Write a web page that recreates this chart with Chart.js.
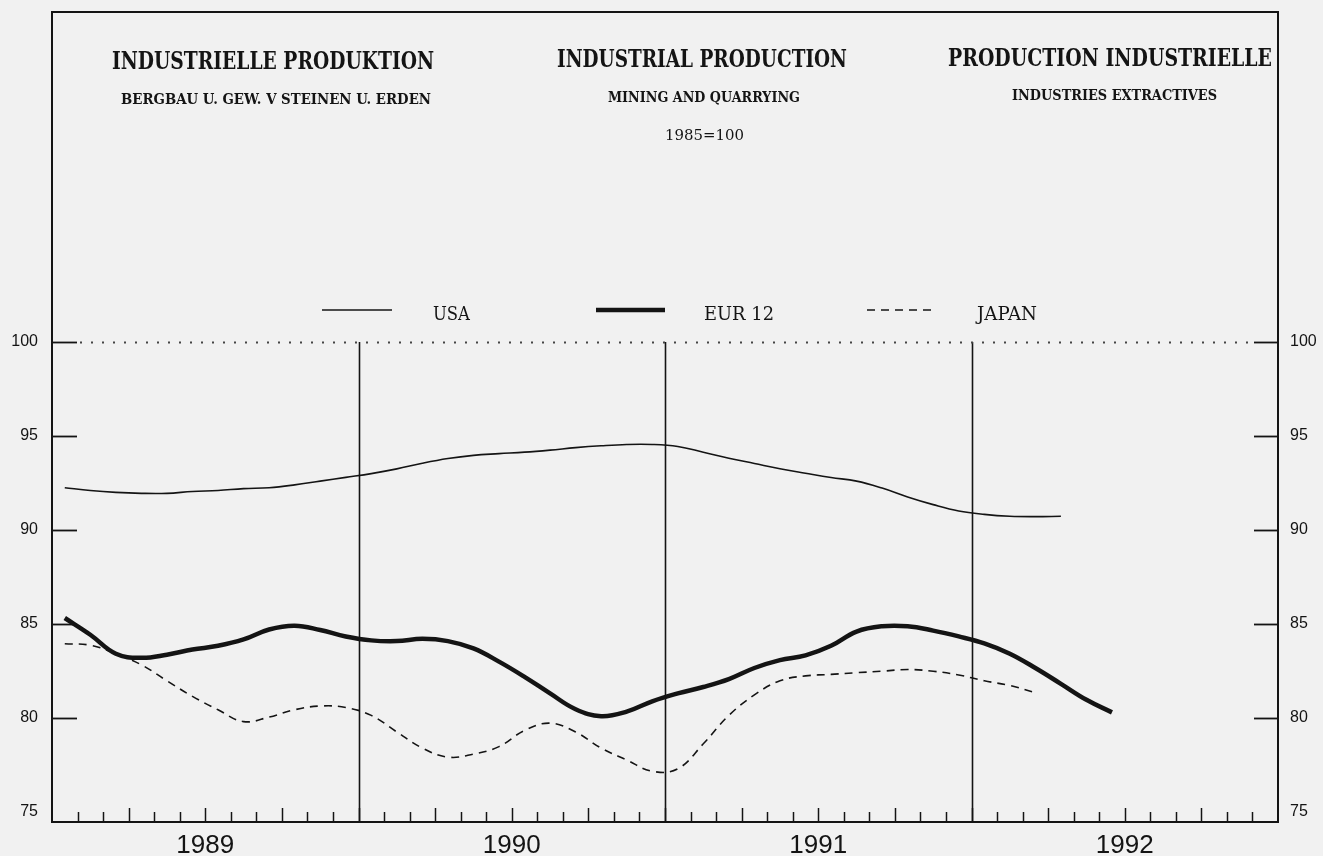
<!DOCTYPE html>
<html><head><meta charset="utf-8">
<script src="https://cdn.jsdelivr.net/npm/chart.js@4.4.1/dist/chart.umd.min.js"></script>
<style>html,body{margin:0;padding:0;background:#f1f1f1;}canvas{display:block;}</style>
</head><body>
<canvas id="c" width="1323" height="856"></canvas>
<script>
// ---- data (monthly, index 0 = Jan 1989) ----
const yearLabels = ['1989', '1990', '1991', '1992'];
const yearCenters = [6, 18, 30, 42];
const yTickValues = [75, 80, 85, 90, 95, 100];
const seriesNames = ['USA', 'EUR 12', 'JAPAN'];
const usa = [92.25, 92.1, 92.0, 91.95, 91.95, 92.05, 92.1, 92.2, 92.25, 92.4, 92.6, 92.8,
  93.0, 93.25, 93.55, 93.8, 93.97, 94.06, 94.14, 94.25, 94.38, 94.48, 94.55, 94.55,
  94.44, 94.14, 93.82, 93.54, 93.26, 93.02, 92.79, 92.6, 92.23, 91.76, 91.35, 91.01,
  90.83, 90.73, 90.71, 90.73];
const eur12 = [85.32, 84.43, 83.42, 83.2, 83.37, 83.64, 83.84, 84.18, 84.71, 84.91, 84.68, 84.34,
  84.13, 84.09, 84.21, 84.09, 83.7, 83.0, 82.19, 81.31, 80.47, 80.1, 80.34, 80.89,
  81.31, 81.65, 82.07, 82.66, 83.08, 83.33, 83.84, 84.6, 84.88, 84.88, 84.65, 84.34,
  83.97, 83.42, 82.66, 81.82, 80.97, 80.3];
const japan = [83.95, 83.87, 83.42, 82.83, 81.98, 81.15, 80.44, 79.81, 80.05, 80.44, 80.64, 80.56,
  80.14, 79.26, 78.4, 77.92, 78.08, 78.48, 79.34, 79.73, 79.26, 78.4, 77.77, 77.17,
  77.3, 78.63, 80.14, 81.23, 81.98, 82.24, 82.32, 82.41, 82.49, 82.58, 82.49, 82.29,
  81.98, 81.73, 81.35];

const toPoints = arr => arr.map((v, i) => ({ x: i + 0.5, y: v }));
const INK = '#141414';
const SLAB = '"DejaVu Serif", "Liberation Serif", serif';
const SANS = '"Liberation Sans", Arial, sans-serif';

function fitText(ctx, text, left, right, cy, size, weight) {
  ctx.save();
  ctx.font = (weight || 'normal') + ' ' + size + 'px ' + SLAB;
  const w = ctx.measureText(text).width;
  const sx = (right - left) / w;
  ctx.translate(left, cy + size * 0.729 / 2);
  ctx.scale(sx, 1);
  ctx.textAlign = 'left';
  ctx.textBaseline = 'alphabetic';
  ctx.fillStyle = INK;
  ctx.fillText(text, 0, 0);
  ctx.restore();
}

const decor = {
  id: 'decor',
  beforeDraw(chart) {
    const ctx = chart.ctx;
    ctx.save();
    ctx.fillStyle = '#f1f1f1';
    ctx.fillRect(0, 0, chart.width, chart.height);
    ctx.restore();
  },
  beforeDatasetsDraw(chart) {
    const ctx = chart.ctx, a = chart.chartArea;
    const x = chart.scales.x, y = chart.scales.y;
    const y100 = y.getPixelForValue(100);
    ctx.save();
    ctx.strokeStyle = INK;
    // year separator lines
    ctx.lineWidth = 1.6;
    [12, 24, 36].forEach(m => {
      const px = Math.round(x.getPixelForValue(m)) + 0.5;
      ctx.beginPath(); ctx.moveTo(px, a.bottom); ctx.lineTo(px, y100); ctx.stroke();
    });
    // month ticks along bottom
    ctx.lineWidth = 1.5;
    for (let m = 1; m < 48; m++) {
      const px = Math.round(x.getPixelForValue(m)) + 0.5;
      const len = (m % 3 === 0) ? 14 : 10;
      ctx.beginPath(); ctx.moveTo(px, a.bottom); ctx.lineTo(px, a.bottom - len); ctx.stroke();
    }
    // inward y ticks on both sides
    ctx.lineWidth = 1.8;
    yTickValues.filter(v => v > 75).forEach(v => {
      const py = Math.round(y.getPixelForValue(v)) + 0.5;
      ctx.beginPath(); ctx.moveTo(a.left, py); ctx.lineTo(a.left + 25, py); ctx.stroke();
      ctx.beginPath(); ctx.moveTo(a.right - 24, py); ctx.lineTo(a.right, py); ctx.stroke();
    });
    // dotted 100 line
    ctx.lineWidth = 2;
    ctx.strokeStyle = '#444';
    ctx.setLineDash([2, 9]);
    ctx.beginPath(); ctx.moveTo(a.left + 28, Math.round(y100) + 0.5); ctx.lineTo(a.right - 26, Math.round(y100) + 0.5); ctx.stroke();
    ctx.setLineDash([]);
    // frame
    ctx.strokeStyle = INK;
    ctx.lineWidth = 2;
    ctx.strokeRect(a.left, a.top, a.right - a.left, a.bottom - a.top);
    ctx.restore();
  },
  afterDraw(chart) {
    const ctx = chart.ctx;
    // titles
    fitText(ctx, 'INDUSTRIELLE PRODUKTION', 112, 434, 60, 24, 'bold');
    fitText(ctx, 'INDUSTRIAL PRODUCTION', 557, 847, 58, 24, 'bold');
    fitText(ctx, 'PRODUCTION INDUSTRIELLE', 948, 1272, 57, 24, 'bold');
    fitText(ctx, 'BERGBAU U. GEW. V STEINEN U. ERDEN', 121, 431, 99, 15, 'bold');
    fitText(ctx, 'MINING AND QUARRYING', 608, 800, 97, 15, 'bold');
    fitText(ctx, '1985=100', 665, 744, 135, 15, 'normal');
    fitText(ctx, 'INDUSTRIES EXTRACTIVES', 1012, 1217, 95, 15, 'bold');
    // legend
    const items = [
      { line: [322, 392], text: [433, 470] },
      { line: [596, 665], text: [704, 774] },
      { line: [867, 937], text: [977, 1037] }
    ];
    chart.data.datasets.forEach((ds, i) => {
      const it = items[i];
      ctx.save();
      ctx.strokeStyle = ds.borderColor;
      ctx.lineWidth = ds.borderWidth;
      ctx.setLineDash(ds.borderDash || []);
      ctx.lineCap = 'butt';
      ctx.beginPath(); ctx.moveTo(it.line[0], 310); ctx.lineTo(it.line[1], 310); ctx.stroke();
      ctx.restore();
      fitText(ctx, ds.label, it.text[0], it.text[1], 313, 19, 'normal');
    });
  }
};

const noPad = s => { s.paddingTop = 0; s.paddingBottom = 0; s.paddingLeft = 0; s.paddingRight = 0; };
const yTickFont = { family: SANS, size: 16 };
const commonY = {
  type: 'linear', min: 74.47, max: 117.55,
  grid: { display: false, drawTicks: false },
  border: { display: false },
  afterBuildTicks: s => { s.ticks = yTickValues.map(v => ({ value: v })); },
};

new Chart(document.getElementById('c'), {
  type: 'line',
  data: {
    datasets: [
      { label: seriesNames[0], data: toPoints(usa), borderColor: INK, borderWidth: 1.6, tension: 0.4, pointRadius: 0, fill: false },
      { label: seriesNames[1], data: toPoints(eur12), borderColor: INK, borderWidth: 4.5, tension: 0.4, pointRadius: 0, fill: false },
      { label: seriesNames[2], data: toPoints(japan), borderColor: INK, borderWidth: 1.6, borderDash: [8, 6], tension: 0.4, pointRadius: 0, fill: false }
    ]
  },
  options: {
    responsive: false,
    animation: false,
    devicePixelRatio: 1,
    layout: { padding: { top: 12, left: 0, right: 0, bottom: 0 } },
    plugins: { legend: { display: false }, tooltip: { enabled: false }, title: { display: false } },
    scales: {
      x: {
        type: 'linear', min: 0, max: 48, position: 'bottom',
        grid: { display: false, drawTicks: false },
        border: { display: false },
        afterBuildTicks: s => { s.ticks = yearCenters.map(v => ({ value: v })); },
        afterFit: s => { s.height = 34; noPad(s); },
        ticks: {
          autoSkip: false, maxRotation: 0, padding: 8, color: INK,
          font: { family: SANS, size: 26 },
          callback: v => yearLabels[yearCenters.indexOf(v)]
        }
      },
      y: Object.assign({}, commonY, {
        position: 'left',
        afterFit: s => { s.width = 52; noPad(s); },
        ticks: { padding: 14, color: INK, font: yTickFont }
      }),
      y2: Object.assign({}, commonY, {
        position: 'right',
        afterFit: s => { s.width = 45; noPad(s); },
        ticks: { padding: 12, color: INK, font: yTickFont }
      })
    }
  },
  plugins: [decor]
});
</script>
</body></html>
